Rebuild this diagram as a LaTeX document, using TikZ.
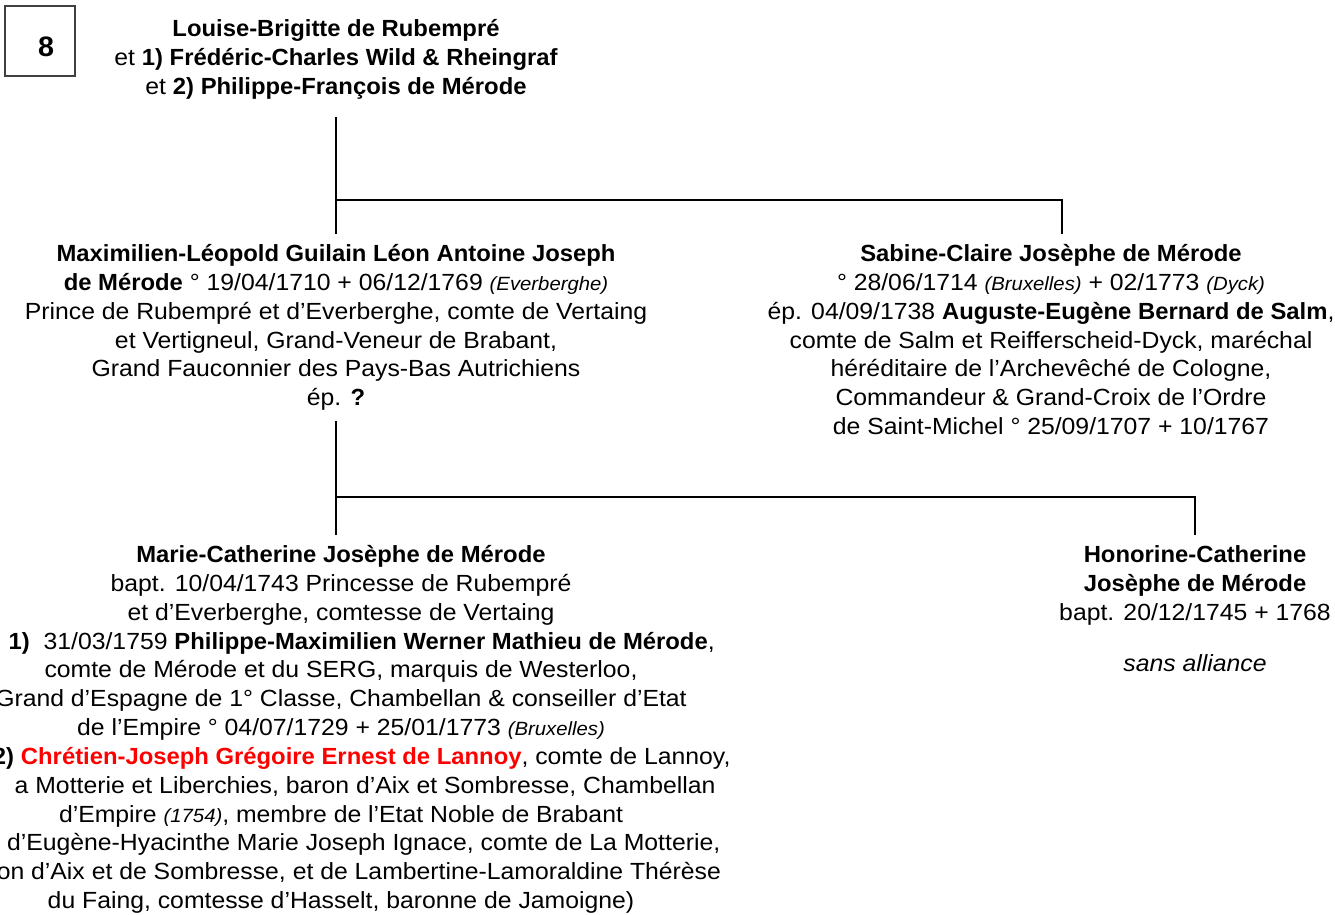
\documentclass[tikz,border=0pt]{standalone}
\usepackage{fontspec}
\setmainfont{Liberation Sans}[
	UprightFeatures={FakeStretch=1.06},
	ItalicFeatures={FakeStretch=1.06},
	BoldFeatures={FakeStretch=1.02}]
\usepackage{tikz}
\usetikzlibrary{calc,positioning}
\definecolor{lannoyred}{RGB}{255,0,0}
\newcommand\lieu[1]{{\fontsize{10.9}{12}\selectfont\itshape #1}}
\tikzset{
	person/.style={align=center, inner sep=0pt, outer ysep=6pt, font=\fontsize{13.3}{16.4}\selectfont},
	tree/.style={line width=1.1pt},
}

\begin{document}
\begin{tikzpicture}[x=0.02cm, y=-0.02cm]
		%%%%% START %%%%%
		\useasboundingbox (0, 0) rectangle (1335, 914);
		
		\draw[line width=0.8pt, color=black!75] (5, 6) rectangle (75, 76);
		\node[font=\fontsize{16}{18}\selectfont\bfseries] (num) at (46, 47) {8};
		
		\node[person, outer ysep=10pt, anchor=south] (parents) at (336, 117) {\textbf{Louise-Brigitte de Rubempré}\\
			et \textbf{1) Frédéric-Charles Wild \& Rheingraf}\\
			et \textbf{2) Philippe-François de Mérode}};
		
		\node[person, anchor=north] (maxi) at (336, 234) {\textbf{Maximilien-Léopold Guilain Léon Antoine Joseph}\\
			\textbf{de Mérode} ° 19/04/1710 + 06/12/1769 \lieu{(Everberghe)}\\
			Prince de Rubempré et d’Everberghe, comte de Vertaing\\
			et Vertigneul, Grand-Veneur de Brabant,\\
			Grand Fauconnier des Pays-Bas Autrichiens\\
			ép. \textbf{?}};
		
		\node[person, anchor=north] (sabine) at (1051, 234) {\textbf{Sabine-Claire Josèphe de Mérode}\\
			° 28/06/1714 \lieu{(Bruxelles)} + 02/1773 \lieu{(Dyck)}\\
			ép. 04/09/1738 \textbf{Auguste-Eugène Bernard de Salm},\\
			comte de Salm et Reifferscheid-Dyck, maréchal\\
			héréditaire de l’Archevêché de Cologne,\\
			Commandeur \& Grand-Croix de l’Ordre\\
			de Saint-Michel ° 25/09/1707 + 10/1767};
		
		\node[person, anchor=north] (marie) at (341, 535) {\textbf{Marie-Catherine Josèphe de Mérode}\\
			bapt. 10/04/1743 Princesse de Rubempré\\
			et d’Everberghe, comtesse de Vertaing\\
			\hphantom{ép.~}\textbf{1)}~ 31/03/1759 \textbf{Philippe-Maximilien Werner Mathieu de Mérode},\\
			comte de Mérode et du SERG, marquis de Westerloo,\\
			Grand d’Espagne de 1° Classe, Chambellan \& conseiller d’Etat\\
			de l’Empire ° 04/07/1729 + 25/01/1773 \lieu{(Bruxelles)}\\
			\hphantom{ép.~}\textbf{2)} \textcolor{lannoyred}{\textbf{Chrétien-Joseph Grégoire Ernest de Lannoy}}, comte de Lannoy,\\
			\hphantom{de L}a Motterie et Liberchies, baron d’Aix et Sombresse, Chambellan\\
			d’Empire \lieu{(1754)}, membre de l’Etat Noble de Brabant\\
			\hphantom{(fils }d’Eugène-Hyacinthe Marie Joseph Ignace, comte de La Motterie,\\
			\hphantom{bar}on d’Aix et de Sombresse, et de Lambertine-Lamoraldine Thérèse\\
			du Faing, comtesse d’Hasselt, baronne de Jamoigne)};
		
		\node[person, anchor=north] (honorine) at (1195, 535) {\textbf{Honorine-Catherine}\\
			\textbf{Josèphe de Mérode}\\
			bapt. 20/12/1745 + 1768\\[13pt]
			\itshape sans alliance};
		
		% first generation
		\coordinate (bus1) at (336, 200);
		\draw[tree] (parents.south) -- (maxi.north);
		\draw[tree] (bus1) -| ([xshift=0.22cm]sabine.north);
		
		% second generation
		\coordinate (bus2) at (336, 497);
		\draw[tree] (maxi.south) -- (maxi.south |- marie.north);
		\draw[tree] (bus2) -| (honorine.north);
		
		%%%%% END %%%%%
	\end{tikzpicture}
\end{document}
